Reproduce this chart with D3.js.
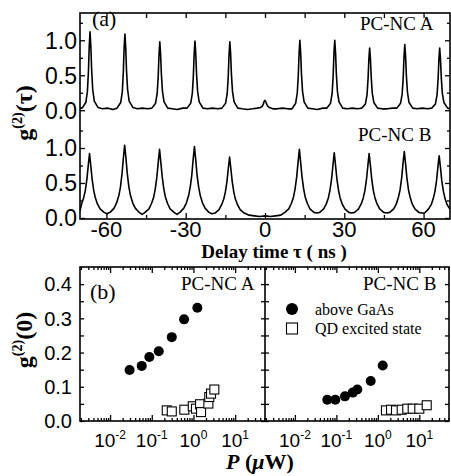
<!DOCTYPE html>
<html>
<head>
<meta charset="utf-8">
<script src="https://cdn.jsdelivr.net/npm/d3@7"></script>
<style>
body { margin: 0; background: #fff; }
</style>
</head>
<body>
<script>
// (a) g2(tau) traces, [delay ns, g2]
var traceA = [
	[-70,0.03],[-69.2,0.03],[-67.8,0.11],[-67.2,0.27],[-66.8,0.56],[-66.5,0.92],[-66.2,1.12],[-65.9,0.92],[-65.6,0.59],[-65.2,0.30],[-64.6,0.13],[-63.2,0.04],[-61.5,0.02],[-59.6,0.03],[-57.5,0.01],
	[-56.0,0.03],[-54.6,0.11],[-54.0,0.26],[-53.6,0.55],[-53.3,0.90],[-53.0,1.09],[-52.7,0.90],[-52.4,0.57],[-52.0,0.30],[-51.4,0.13],[-50.0,0.04],[-48.3,0.02],[-46.4,0.03],[-44.3,0.02],
	[-42.8,0.03],[-41.4,0.10],[-40.8,0.24],[-40.4,0.49],[-40.1,0.80],[-39.8,0.98],[-39.5,0.80],[-39.2,0.51],[-38.8,0.27],[-38.2,0.12],[-36.8,0.03],[-35.1,0.02],[-33.2,0.01],[-31.1,0.03],
	[-29.5,0.03],[-28.1,0.10],[-27.5,0.24],[-27.1,0.50],[-26.8,0.81],[-26.5,0.99],[-26.2,0.81],[-25.9,0.52],[-25.5,0.27],[-24.9,0.12],[-23.5,0.03],[-21.8,0.02],[-19.9,0.03],[-17.8,0.02],
	[-16.3,0.03],[-14.9,0.10],[-14.3,0.24],[-13.9,0.49],[-13.6,0.80],[-13.3,0.98],[-13.0,0.80],[-12.7,0.51],[-12.3,0.27],[-11.7,0.12],[-10.3,0.03],[-8.6,0.02],[-6.6,0.01],[-4.6,0.02],[-3.0,0.03],
	[-1.6,0.04],[-1.0,0.06],[-0.6,0.09],[-0.3,0.13],[0,0.14],[0.3,0.12],[0.6,0.09],[1.0,0.06],[1.6,0.04],[3.0,0.02],[4.6,0.02],[6.6,0.03],[8.6,0.02],[10.2,0.02],
	[11.6,0.10],[12.2,0.24],[12.6,0.50],[12.9,0.82],[13.2,1.00],[13.5,0.82],[13.8,0.52],[14.2,0.27],[14.8,0.12],[16.2,0.03],[17.9,0.02],[19.8,0.01],[21.9,0.03],[23.4,0.03],
	[24.8,0.10],[25.4,0.24],[25.8,0.50],[26.1,0.82],[26.4,1.00],[26.7,0.82],[27.0,0.52],[27.4,0.27],[28.0,0.12],[29.4,0.03],[31.1,0.02],[33.0,0.03],[35.1,0.02],[36.6,0.03],
	[38.0,0.09],[38.6,0.22],[39.0,0.45],[39.3,0.73],[39.6,0.89],[39.9,0.73],[40.2,0.47],[40.6,0.24],[41.2,0.11],[42.6,0.03],[44.3,0.02],[46.2,0.02],[48.3,0.03],[49.9,0.03],
	[51.3,0.10],[51.9,0.23],[52.3,0.47],[52.6,0.77],[52.9,0.94],[53.2,0.77],[53.5,0.49],[53.9,0.26],[54.5,0.11],[55.9,0.03],[57.6,0.02],[59.5,0.03],[61.6,0.02],[63.1,0.03],
	[64.5,0.09],[65.1,0.22],[65.5,0.45],[65.8,0.73],[66.1,0.89],[66.4,0.73],[66.7,0.47],[67.1,0.24],[67.7,0.11],[69.1,0.03],[70,0.02]
];

var traceB = [
	[-70,0.10],[-69.4,0.20],[-68.6,0.29],[-68.0,0.39],[-67.4,0.55],[-66.9,0.74],[-66.4,0.92],[-65.9,0.74],[-65.4,0.55],[-64.8,0.39],[-64.2,0.29],[-63.4,0.20],[-62.4,0.13],[-60.9,0.08],[-59.8,0.06],
	[-58.6,0.08],[-57.1,0.14],[-56.1,0.22],[-55.3,0.32],[-54.7,0.44],[-54.1,0.63],[-53.6,0.85],[-53.1,1.04],[-52.6,0.85],[-52.1,0.63],[-51.5,0.44],[-50.9,0.32],[-50.1,0.22],[-49.1,0.14],[-47.6,0.08],[-46.5,0.05],
	[-45.4,0.08],[-43.9,0.13],[-42.9,0.21],[-42.1,0.30],[-41.5,0.42],[-40.9,0.59],[-40.4,0.79],[-39.9,0.98],[-39.4,0.79],[-38.9,0.59],[-38.3,0.42],[-37.7,0.30],[-36.9,0.21],[-35.9,0.13],[-34.4,0.08],[-33.3,0.05],
	[-32.2,0.08],[-30.7,0.14],[-29.7,0.22],[-28.9,0.32],[-28.3,0.44],[-27.7,0.61],[-27.2,0.83],[-26.7,1.02],[-26.2,0.83],[-25.7,0.61],[-25.1,0.44],[-24.5,0.32],[-23.7,0.22],[-22.7,0.14],[-21.2,0.08],[-20.1,0.06],
	[-18.9,0.07],[-17.4,0.12],[-16.4,0.19],[-15.6,0.27],[-15.0,0.37],[-14.4,0.52],[-13.9,0.70],[-13.4,0.87],[-12.9,0.70],[-12.4,0.52],[-11.8,0.37],[-11.2,0.27],[-10.4,0.19],[-9.4,0.12],[-7.9,0.07],
	[-6.0,0.04],[-4.0,0.03],[-2.0,0.02],[0,0.03],[2.0,0.02],[4.0,0.03],[6.0,0.04],
	[7.5,0.08],[9.0,0.13],[10.0,0.21],[10.8,0.30],[11.4,0.42],[12.0,0.59],[12.5,0.79],[13.0,0.98],[13.5,0.79],[14.0,0.59],[14.6,0.42],[15.2,0.30],[16.0,0.21],[17.0,0.13],[18.5,0.08],[19.6,0.07],
	[20.7,0.08],[22.2,0.13],[23.2,0.20],[24.0,0.29],[24.6,0.40],[25.2,0.56],[25.7,0.75],[26.2,0.93],[26.7,0.75],[27.2,0.56],[27.8,0.40],[28.4,0.29],[29.2,0.20],[30.2,0.13],[31.7,0.08],[32.8,0.07],
	[33.9,0.08],[35.4,0.13],[36.4,0.20],[37.2,0.29],[37.8,0.39],[38.4,0.55],[38.9,0.74],[39.4,0.92],[39.9,0.74],[40.4,0.55],[41.0,0.39],[41.6,0.29],[42.4,0.20],[43.4,0.13],[44.9,0.08],[46.0,0.07],
	[47.2,0.08],[48.7,0.13],[49.7,0.20],[50.5,0.30],[51.1,0.40],[51.7,0.57],[52.2,0.77],[52.7,0.95],[53.2,0.77],[53.7,0.57],[54.3,0.40],[54.9,0.30],[55.7,0.20],[56.7,0.13],[58.2,0.08],[59.3,0.07],
	[60.4,0.07],[61.9,0.13],[62.9,0.19],[63.7,0.28],[64.3,0.38],[64.9,0.53],[65.4,0.72],[65.9,0.89],[66.4,0.72],[66.9,0.53],[67.5,0.38],[68.1,0.28],[68.9,0.19],[69.9,0.13],[70,0.13]
];

var offsetA = 1.54;
var tauMajor = [-60, -30, 0, 30, 60];
var tauMinor = [-45, -15, 15, 45];
var gMajor = [0, 0.5, 1.0];
var gMinor = [0.25, 0.75, 1.25];

// (b) g2(0) vs power
var aGaAsP = [0.0294, 0.0575, 0.0875, 0.147, 0.302, 0.596, 1.24];
var aGaAsG = [0.149, 0.161, 0.187, 0.204, 0.245, 0.297, 0.331];
var aQdP = [0.229, 0.302, 0.605, 0.962, 1.15, 1.44, 1.52, 2.28, 2.40, 2.64, 3.17];
var aQdG = [0.031, 0.028, 0.033, 0.043, 0.036, 0.049, 0.026, 0.051, 0.070, 0.080, 0.092];
var bGaAsP = [0.0604, 0.0942, 0.161, 0.248, 0.320, 0.673, 1.31];
var bGaAsG = [0.062, 0.062, 0.072, 0.083, 0.092, 0.117, 0.162];
var bQdP = [1.57, 2.08, 2.74, 3.76, 5.13, 6.93, 10.0, 15.1];
var bQdG = [0.031, 0.033, 0.031, 0.033, 0.036, 0.036, 0.036, 0.046];

var pTicks = [0.01, 0.1, 1, 10];
var pExp = ['-2', '-1', '0', '1'];
var g0Major = [0, 0.1, 0.2, 0.3, 0.4];
var g0Minor = [0.05, 0.15, 0.25, 0.35];

var SANS = 'Liberation Sans, Arial, sans-serif';
var SERIF = 'Liberation Serif, Times New Roman, serif';

var svg = d3.select('body').append('svg')
	.attr('width', 451)
	.attr('height', 476);

function ticks(axis, x, y, vals, size) {
	var g = svg.append('g').attr('transform', 'translate(' + x + ',' + y + ')');
	g.call(axis.tickValues(vals).tickSize(size).tickSizeOuter(0).tickFormat(''));
	g.select('.domain').remove();
	g.selectAll('line').attr('stroke', '#000').attr('stroke-width', 1.3);
	return g;
}

function label(x, y, txt, size, font, anchor) {
	return svg.append('text')
		.attr('x', x)
		.attr('y', y)
		.attr('font-family', font)
		.attr('font-size', size)
		.attr('text-anchor', anchor || 'start')
		.text(txt);
}

// ---------- panel (a)
var xT = d3.scaleLinear().domain([-70, 70]).range([80, 450]);
var yT = d3.scaleLinear().domain([-0.015, 2.93]).range([219, 13]);

svg.append('clipPath').attr('id', 'clipA')
	.append('rect')
	.attr('x', 80).attr('y', 13)
	.attr('width', 370).attr('height', 206);

var line = function(off) {
	return d3.line()
		.x(function(d) { return xT(d[0]); })
		.y(function(d) { return yT(d[1] + off); });
};

svg.append('path')
	.datum(traceA)
	.attr('clip-path', 'url(#clipA)')
	.attr('d', line(offsetA))
	.attr('fill', 'none')
	.attr('stroke', '#000')
	.attr('stroke-width', 1.6)
	.attr('stroke-linejoin', 'round');

svg.append('path')
	.datum(traceB)
	.attr('clip-path', 'url(#clipA)')
	.attr('d', line(0))
	.attr('fill', 'none')
	.attr('stroke', '#000')
	.attr('stroke-width', 1.6)
	.attr('stroke-linejoin', 'round');

ticks(d3.axisBottom(xT), 0, 219, tauMajor, -6);
ticks(d3.axisBottom(xT), 0, 219, tauMinor, -4);
ticks(d3.axisTop(xT), 0, 13, tauMajor.concat(tauMinor), -5);

var yMajor = [], yMinor = [];
[offsetA, 0].forEach(function(off) {
	gMajor.forEach(function(v) { yMajor.push(v + off); });
	gMinor.forEach(function(v) { yMinor.push(v + off); });
});
ticks(d3.axisLeft(yT), 80, 0, yMajor, -5);
ticks(d3.axisLeft(yT), 80, 0, yMinor, -3);
ticks(d3.axisRight(yT), 450, 0, yMajor, -5);
ticks(d3.axisRight(yT), 450, 0, yMinor, -3);

svg.append('rect')
	.attr('x', 80).attr('y', 13)
	.attr('width', 370).attr('height', 206)
	.attr('fill', 'none')
	.attr('stroke', '#000')
	.attr('stroke-width', 1.6);

[offsetA, 0].forEach(function(off) {
	gMajor.forEach(function(v) {
		label(77, yT(v + off), v.toFixed(1), 23, SANS, 'end').attr('dy', '0.36em');
	});
});

tauMajor.forEach(function(t) {
	label(xT(t), 237, String(t), 22, SANS, 'middle');
});

label(92, 26, '(a)', 22, SERIF);
label(360, 30, 'PC-NC A', 19, SERIF);
label(358, 141, 'PC-NC B', 19, SERIF);

label(274, 258, 'Delay time \u03c4 ( ns )', 19, SERIF, 'middle').attr('font-weight', 'bold');

var yt = svg.append('text')
	.attr('transform', 'translate(32,113) rotate(-90)')
	.attr('text-anchor', 'middle')
	.attr('font-family', SERIF)
	.attr('font-weight', 'bold')
	.attr('font-size', 24);
yt.append('tspan').text('g');
yt.append('tspan').attr('font-size', 14).attr('dy', -10).text('(2)');
yt.append('tspan').attr('dy', 10).text('(\u03c4)');

// ---------- panel (b)
var yB = d3.scaleLinear().domain([0, 0.45]).range([421, 267]);
var xL = d3.scaleLog().domain([0.0019, 52]).range([80, 265]);
var xR = d3.scaleLog().domain([0.0019, 52]).range([265, 449]);

var pMinor = [];
[-3, -2, -1, 0, 1].forEach(function(d) {
	for (var k = 2; k <= 9; k++) {
		var v = k * Math.pow(10, d);
		if (v > 0.0019 && v < 52) pMinor.push(v);
	}
});

[xL, xR].forEach(function(x) {
	ticks(d3.axisBottom(x), 0, 421, pTicks, -6);
	ticks(d3.axisBottom(x), 0, 421, pMinor, -3);
	ticks(d3.axisTop(x), 0, 267, pTicks, -6);
	ticks(d3.axisTop(x), 0, 267, pMinor, -3);
});

ticks(d3.axisLeft(yB), 80, 0, g0Major.concat(g0Minor), -4);
ticks(d3.axisRight(yB), 265, 0, g0Major.concat(g0Minor), -4);
ticks(d3.axisLeft(yB), 265, 0, g0Major.concat(g0Minor), -4);
ticks(d3.axisRight(yB), 449, 0, g0Major.concat(g0Minor), -4);

svg.append('rect')
	.attr('x', 80).attr('y', 267)
	.attr('width', 369).attr('height', 154)
	.attr('fill', 'none')
	.attr('stroke', '#000')
	.attr('stroke-width', 1.6);

svg.append('line')
	.attr('x1', 265).attr('x2', 265)
	.attr('y1', 267).attr('y2', 421)
	.attr('stroke', '#000')
	.attr('stroke-width', 1.6);

function circles(x, ps, gs) {
	svg.append('g').selectAll('circle')
		.data(ps)
		.enter()
		.append('circle')
		.attr('cx', function(d) { return x(d); })
		.attr('cy', function(d, i) { return yB(gs[i]); })
		.attr('r', 5)
		.attr('fill', '#000');
}

function squares(x, ps, gs) {
	svg.append('g').selectAll('rect')
		.data(ps)
		.enter()
		.append('rect')
		.attr('x', function(d) { return x(d) - 4.5; })
		.attr('y', function(d, i) { return yB(gs[i]) - 4.5; })
		.attr('width', 9)
		.attr('height', 9)
		.attr('fill', '#fff')
		.attr('stroke', '#000')
		.attr('stroke-width', 1.1);
}

squares(xL, aQdP, aQdG);
circles(xL, aGaAsP, aGaAsG);
squares(xR, bQdP, bQdG);
circles(xR, bGaAsP, bGaAsG);

g0Major.forEach(function(v) {
	label(72, yB(v), v.toFixed(1), 20, SANS, 'end').attr('dy', '0.36em');
});

[xL, xR].forEach(function(x) {
	pTicks.forEach(function(p, i) {
		var t = label(x(p), 447, '', 19, SANS, 'middle');
		t.append('tspan').text('10');
		t.append('tspan').attr('font-size', 12).attr('dy', -8).text(pExp[i]);
	});
});

label(90, 299, '(b)', 22, SERIF);
label(181, 290, 'PC-NC A', 19, SERIF);
label(363, 290, 'PC-NC B', 19, SERIF);

// legend
svg.append('circle').attr('cx', 292).attr('cy', 309).attr('r', 6).attr('fill', '#000');
svg.append('rect').attr('x', 286.5).attr('y', 323).attr('width', 11).attr('height', 11)
	.attr('fill', '#fff').attr('stroke', '#000').attr('stroke-width', 1.1);
label(315, 315, 'above GaAs', 16, SERIF);
label(315, 334, 'QD excited state', 16, SERIF);

var yt2 = svg.append('text')
	.attr('transform', 'translate(32,340) rotate(-90)')
	.attr('text-anchor', 'middle')
	.attr('font-family', SERIF)
	.attr('font-weight', 'bold')
	.attr('font-size', 24);
yt2.append('tspan').text('g');
yt2.append('tspan').attr('font-size', 14).attr('dy', -10).text('(2)');
yt2.append('tspan').attr('dy', 10).text('(0)');

var xt = svg.append('text')
	.attr('x', 260)
	.attr('y', 469)
	.attr('text-anchor', 'middle')
	.attr('font-family', SERIF)
	.attr('font-weight', 'bold')
	.attr('font-size', 22);
xt.append('tspan').attr('font-style', 'italic').text('P');
xt.append('tspan').text(' (');
xt.append('tspan').attr('font-style', 'italic').text('\u03bc');
xt.append('tspan').text('W)');
</script>
</body>
</html>
